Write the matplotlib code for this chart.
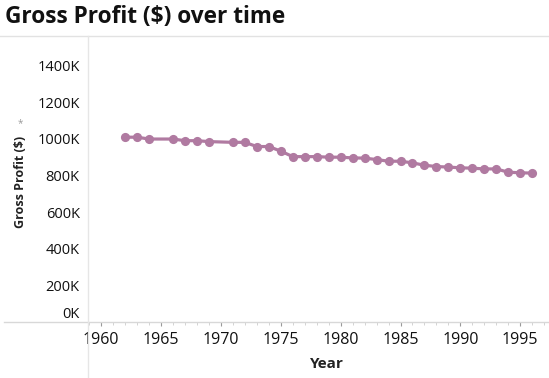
import matplotlib
matplotlib.use("Agg")
import matplotlib.pyplot as plt
import matplotlib.transforms as mtransforms
from matplotlib.ticker import MultipleLocator, FuncFormatter
from matplotlib.lines import Line2D

years = [1962, 1963, 1964, 1966, 1967, 1968, 1969, 1971, 1972, 1973, 1974,
         1975, 1976, 1977, 1978, 1979, 1980, 1981, 1982, 1983, 1984, 1985,
         1986, 1987, 1988, 1989, 1990, 1991, 1992, 1993, 1994, 1995, 1996]
gross_profit = [1008, 1008, 998, 998, 989, 989, 984, 980, 980, 957, 957,
                932, 902, 902, 902, 899, 899, 895, 894, 886, 877, 877,
                868, 855, 848, 845, 841, 839, 835, 835, 817, 814, 812]  # thousands
y_ticks = [0, 200, 400, 600, 800, 1000, 1200, 1400]
x_ticks = [1960, 1965, 1970, 1975, 1980, 1985, 1990, 1995]

FONT = ["Open Sans", "DejaVu Sans"]
plt.rcParams['font.family'] = FONT

W, H = 549, 378
fig = plt.figure(figsize=(W / 100, H / 100), dpi=100)
ax = fig.add_axes([88 / W, (H - 322) / H, (549 - 88) / W, (322 - 36) / H])

color = "#B07AA1"
ax.plot(years, gross_profit, color=color, lw=2.3, marker="o", markersize=6.6,
        markeredgewidth=0, solid_capstyle="round", zorder=3)

ax.set_xlim(1958.9, 1997.4)
ax.set_ylim(0, 1560)
ax.set_xticks(x_ticks)
ax.xaxis.set_minor_locator(MultipleLocator(1))
ax.set_yticks(y_ticks)
ax.yaxis.set_major_formatter(FuncFormatter(lambda v, p: f"{int(v)}K"))

for s in ["top", "right", "left", "bottom"]:
    ax.spines[s].set_visible(False)

ax.tick_params(axis="x", which="major", length=3, width=0.8, color="#999999",
               labelsize=11.5, labelcolor="#111111", pad=4)
ax.tick_params(axis="x", which="minor", length=2, width=0.6, color="#cccccc")
ax.tick_params(axis="y", which="major", length=0, labelsize=10.5,
               labelcolor="#111111", pad=6)
for lbl in ax.get_xticklabels() + ax.get_yticklabels():
    lbl.set_fontweight("medium")

# shift the 0K label up like the reference
for lbl in ax.get_yticklabels():
    if lbl.get_text() == "0K":
        lbl.set_transform(lbl.get_transform() +
                          mtransforms.ScaledTranslation(0, 10 / 100, fig.dpi_scale_trans))

# frame lines
fig.add_artist(Line2D([0, 1], [(H - 36) / H] * 2, color="#e2e2e2", lw=1.0))
fig.add_artist(Line2D([4 / W, 1], [(H - 322) / H] * 2, color="#d8d8d8", lw=1.0))
fig.add_artist(Line2D([88 / W] * 2, [0, (H - 36) / H], color="#e6e6e6", lw=1.0))

fig.text(5 / W, (H - 17) / H, "Gross Profit ($) over time", fontsize=16.3,
         fontweight="bold", va="center", ha="left", color="#111111")
fig.text(20 / W, (H - 182) / H, "Gross Profit ($)", rotation=90, fontsize=9,
         fontweight="bold", va="center", ha="center", color="#222222")
fig.text(20 / W, (H - 124) / H, "*", fontsize=7, va="center", ha="center",
         color="#999999")
fig.text(327 / W, (H - 364) / H, "Year", fontsize=11, fontweight="bold",
         va="center", ha="center", color="#222222")

fig.savefig("out.png", dpi=100)
